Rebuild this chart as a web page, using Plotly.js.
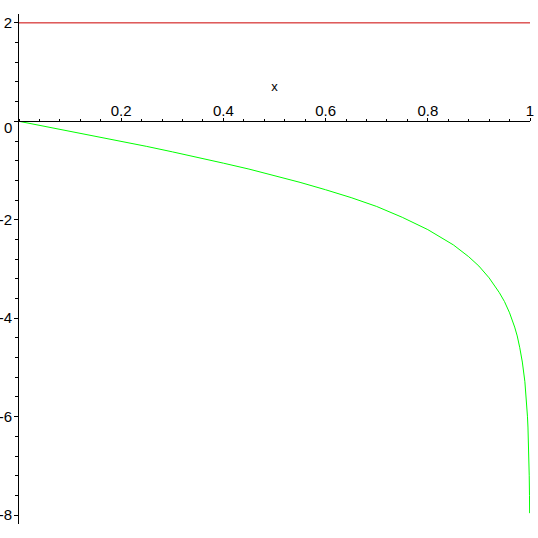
<!DOCTYPE html>
<html>
<head>
<meta charset="utf-8">
<script src="https://cdn.plot.ly/plotly-3.0.1.min.js"></script>
<style>html,body{margin:0;padding:0;background:#fff;}#chart{width:538px;height:538px;}</style>
</head>
<body>
<div id="chart"></div>
<script>
// curve
const curveX = [0, 0.05, 0.1, 0.15, 0.2, 0.25, 0.3, 0.35, 0.4, 0.45, 0.5, 0.55, 0.6, 0.65, 0.7, 0.75, 0.8, 0.85, 0.88, 0.9, 0.92, 0.94, 0.95, 0.96, 0.97, 0.975, 0.98, 0.985, 0.99, 0.993, 0.995, 0.996, 0.997, 0.998, 0.9985, 0.999, 0.9993];
const curveY = [0, -0.10, -0.20, -0.30, -0.41, -0.51, -0.62, -0.73, -0.85, -0.97, -1.10, -1.24, -1.39, -1.55, -1.73, -1.95, -2.20, -2.51, -2.75, -2.94, -3.18, -3.48, -3.66, -3.89, -4.18, -4.36, -4.60, -4.89, -5.29, -5.65, -5.99, -6.21, -6.50, -6.91, -7.20, -7.60, -7.96];
// horizontal line
const lineX = [0, 1];
const lineY = [2, 2];
const xTickVals = [0.2, 0.4, 0.6, 0.8, 1];
const xTickText = ["0.2", "0.4", "0.6", "0.8", "1"];
const yTickVals = [-8, -6, -4, -2, 0, 2];
const yTickText = ["-8", "-6", "-4", "-2", "", "2"];
const originLabel = "0";

const yMin = -8.18, yMax = 2.18;
const traces = [
  {x: lineX, y: lineY, mode: 'lines', line: {color: '#cc0000', width: 1}, hoverinfo: 'skip'},
  {x: curveX, y: curveY, mode: 'lines', line: {color: '#00ff00', width: 1}, hoverinfo: 'skip'}
];
const font = {family: 'Liberation Sans Narrow, Liberation Sans, Arial, sans-serif', size: 15, color: '#000'};
const layout = {
  width: 538, height: 538,
  margin: {l: 19, r: 8, t: 14, b: 14},
  showlegend: false,
  paper_bgcolor: '#fff', plot_bgcolor: '#fff',
  font: font,
  xaxis: {
    range: [0, 1], showgrid: false, zeroline: false,
    anchor: 'free', position: (0 - yMin) / (yMax - yMin), side: 'top',
    showline: true, linecolor: '#000', linewidth: 1,
    ticks: 'outside', ticklen: 3, tickcolor: '#000', tickwidth: 1,
    ticklabelstandoff: -4,
    tickvals: xTickVals, ticktext: xTickText, tickfont: font,
    minor: {dtick: 0.04, tick0: 0, ticks: 'outside', ticklen: 2, tickcolor: '#000', showgrid: false},
    title: {text: 'x', font: {family: 'Liberation Sans, Arial, sans-serif', size: 13, color: '#000'}, standoff: 6}
  },
  yaxis: {
    range: [yMin, yMax], showgrid: false, zeroline: false,
    showline: true, linecolor: '#000', linewidth: 1,
    ticks: 'outside', ticklen: 4, tickcolor: '#000', tickwidth: 1,
    ticklabelstandoff: -1,
    tickvals: yTickVals, ticktext: yTickText, tickfont: font,
    minor: {dtick: 0.4, tick0: 0, ticks: 'outside', ticklen: 3, tickcolor: '#000', showgrid: false}
  },
  annotations: [{
    text: originLabel, xref: 'paper', x: 0, xanchor: 'right', xshift: -5,
    yref: 'y', y: 0, yanchor: 'middle', yshift: -6, showarrow: false, font: font
  }]
};
Plotly.newPlot('chart', traces, layout, {staticPlot: true});
</script>
</body>
</html>
